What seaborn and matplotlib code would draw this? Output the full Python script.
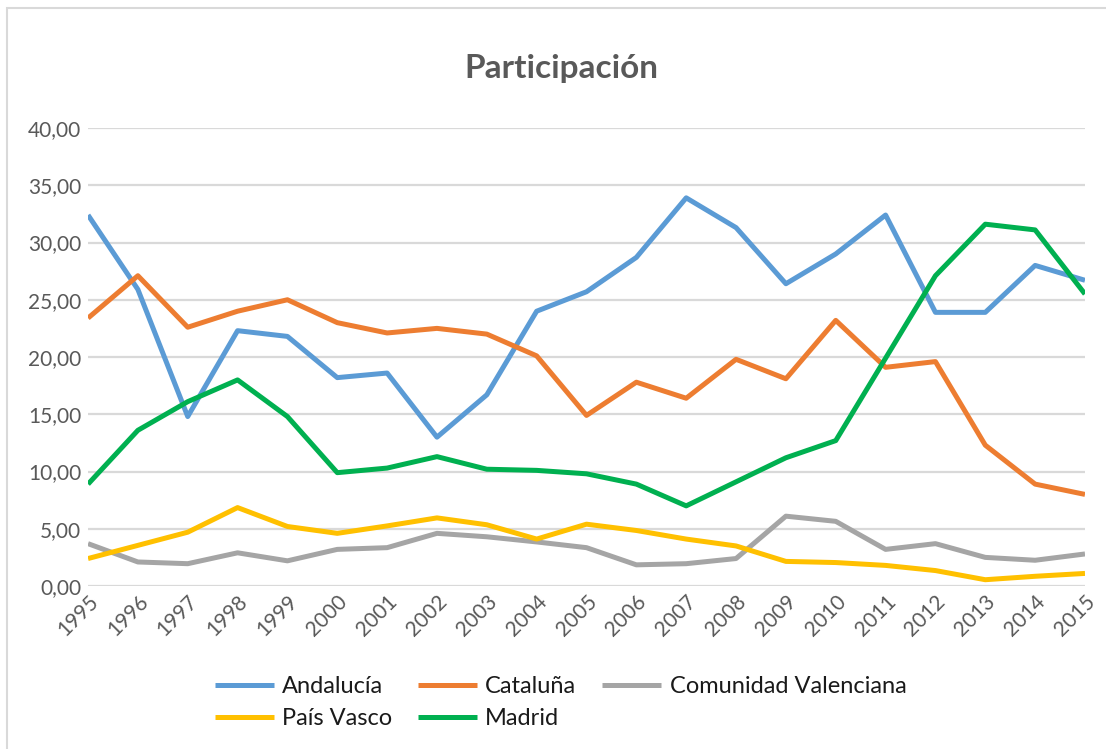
import pandas as pd
import seaborn as sns
from matplotlib import pyplot as plt
from matplotlib.patches import Rectangle
from matplotlib.ticker import FuncFormatter, MultipleLocator

years = list(range(1995, 2016))
andalucia = [32.4, 25.9, 14.8, 22.3, 21.8, 18.2, 18.6, 13.0, 16.7, 24.0, 25.7,
             28.7, 33.9, 31.3, 26.4, 29.0, 32.4, 23.9, 23.9, 28.0, 26.7]
cataluna = [23.4, 27.1, 22.6, 24.0, 25.0, 23.0, 22.1, 22.5, 22.0, 20.1, 14.9,
            17.8, 16.4, 19.8, 18.1, 23.2, 19.1, 19.6, 12.3, 8.9, 8.0]
valenciana = [3.7, 2.1, 1.95, 2.9, 2.2, 3.2, 3.35, 4.6, 4.3, 3.85, 3.35,
              1.85, 1.95, 2.4, 6.1, 5.65, 3.2, 3.7, 2.5, 2.25, 2.8]
pais_vasco = [2.4, 3.55, 4.7, 6.85, 5.2, 4.6, 5.25, 5.95, 5.35, 4.1, 5.4,
              4.85, 4.1, 3.5, 2.15, 2.05, 1.8, 1.35, 0.55, 0.85, 1.1]
madrid = [8.9, 13.6, 16.1, 18.0, 14.8, 9.9, 10.3, 11.3, 10.2, 10.1, 9.8,
          8.9, 7.0, 9.1, 11.2, 12.7, 19.9, 27.1, 31.6, 31.1, 25.5]

series = ["Andalucía", "Cataluña", "Comunidad Valenciana", "País Vasco", "Madrid"]
colors = ["#5B9BD5", "#ED7D31", "#A5A5A5", "#FFC000", "#00B050"]

df = pd.DataFrame({"Año": years, "Andalucía": andalucia, "Cataluña": cataluna,
                   "Comunidad Valenciana": valenciana, "País Vasco": pais_vasco,
                   "Madrid": madrid})
df_long = df.melt(id_vars="Año", var_name="Región", value_name="Valor")

sns.set_style("white")
plt.rcParams['font.family'] = ['Lato', 'DejaVu Sans']

fig = plt.figure(figsize=(11.06, 7.49), dpi=100)
ax = fig.add_axes([0.0796, 0.2176, 0.9014, 0.6115])

sns.lineplot(data=df_long, x="Año", y="Valor", hue="Región", hue_order=series,
             palette=colors, linewidth=3.6, ax=ax, legend=True,
             solid_joinstyle="round", solid_capstyle="butt")

ax.set_xlim(1995, 2015)
ax.set_ylim(0, 40)
ax.yaxis.set_major_locator(MultipleLocator(5))
ax.yaxis.set_major_formatter(FuncFormatter(lambda v, p: f"{v:.2f}".replace(".", ",")))
ax.set_xticks(years)
ax.set_xticklabels([str(y) for y in years], rotation=45, ha="right",
                   rotation_mode="anchor")
ax.grid(axis="y", color="#D9D9D9", linewidth=1.6)
ax.set_axisbelow(True)
for s in ax.spines.values():
    s.set_visible(False)
ax.tick_params(axis="both", length=0, labelsize=15, labelcolor="#595959")
ax.tick_params(axis="y", pad=5)
ax.tick_params(axis="x", pad=4)
ax.set_xlabel("")
ax.set_ylabel("")

fig.text(0.508, 0.908, "Participación", ha="center", va="center",
         fontsize=24, fontweight="bold", color="#595959")

# reorder so legend reads row by row
handles, labels = ax.get_legend_handles_labels()
order = [0, 3, 1, 4, 2]
leg = ax.legend([handles[i] for i in order], [labels[i] for i in order], ncol=3,
                loc="center", bbox_to_anchor=(0.474, -0.255), frameon=False,
                fontsize=17, handlelength=2.5, handletextpad=0.35,
                columnspacing=1.1, labelspacing=0.45, labelcolor="#1a1a1a")

# chart border (left and top edges visible)
fig.patches.append(Rectangle((7 / 1106, -0.1), 1.2, 1.1 - 8 / 749,
                             transform=fig.transFigure, fill=False,
                             edgecolor="#D9D9D9", linewidth=1.5))

fig.savefig("out.png", dpi=100)
